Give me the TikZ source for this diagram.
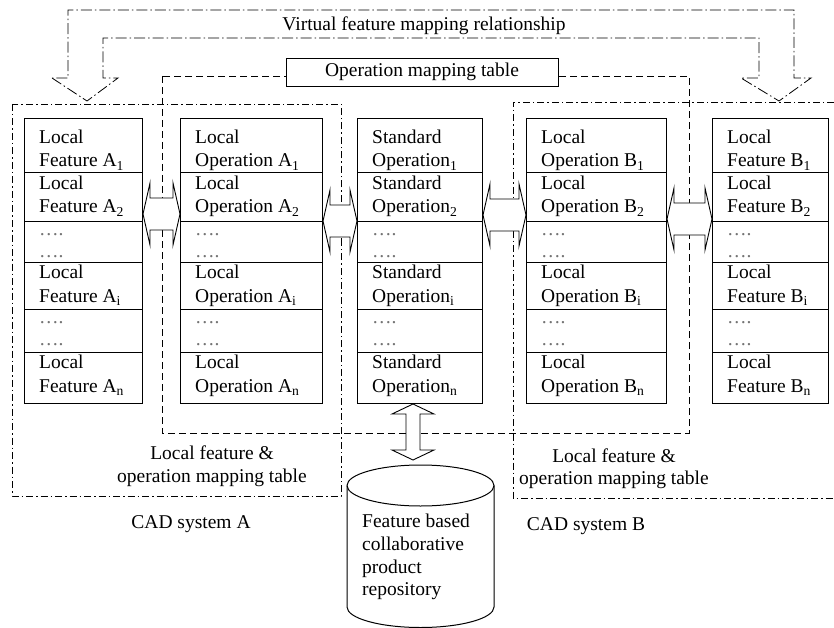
\documentclass[tikz,border=0pt]{standalone}
\usepackage{fontspec}
\setmainfont{Liberation Serif}
\usetikzlibrary{calc}
\newcommand\mycol[5]{%
  \node[colbox, minimum width=#3pt, anchor=north west] (#1) at (#2,118) {};
  \foreach \yy in {173,222,262,309,352} {\draw[sepline] (#1.west |- 0,\yy) -- (#1.east |- 0,\yy);}
  \node[lbl] (#1-a1) at ({#2+15},144) {#4};
  \node[lbl] (#1-b1) at ({#2+15},167) {#5\textsubscript{1}};
  \node[lbl] (#1-a2) at ({#2+15},190) {#4};
  \node[lbl] (#1-b2) at ({#2+15},213) {#5\textsubscript{2}};
  \node[dotsty] (#1-d1) at ({#2+15},235) {….};
  \node[dotsty] (#1-d2) at ({#2+15},257) {….};
  \node[lbl] (#1-a3) at ({#2+15},278) {#4};
  \node[lbl] (#1-b3) at ({#2+15},302) {#5\textsubscript{i}};
  \node[dotsty] (#1-d3) at ({#2+15},323) {….};
  \node[dotsty] (#1-d4) at ({#2+15},345) {….};
  \node[lbl] (#1-a4) at ({#2+15},368) {#4};
  \node[lbl] (#1-b4) at ({#2+15},392) {#5\textsubscript{n}};
}
\newcommand\hdarr[3]{%
  \path[darr] let \p1=(#1.east), \p2=(#2.west) in
    (\x1,{-#3pt}) -- ({\x1+7pt},{-#3pt+31pt}) -- ({\x1+7pt},{-#3pt+16pt})
    -- ({\x2-7pt},{-#3pt+16pt}) -- ({\x2-7pt},{-#3pt+31pt}) -- (\x2,{-#3pt})
    -- ({\x2-7pt},{-#3pt-31pt}) -- ({\x2-7pt},{-#3pt-16pt})
    -- ({\x1+7pt},{-#3pt-16pt}) -- ({\x1+7pt},{-#3pt-31pt}) -- cycle;
}
\begin{document}
\begin{tikzpicture}[x=1pt,y=-1pt,
  font=\fontsize{19.5}{23}\selectfont,
  colbox/.style={draw, line width=1pt, fill=white, rectangle, inner sep=0pt, minimum height=285pt},
  sepline/.style={line width=1pt},
  lbl/.style={anchor=base west, inner sep=0pt},
  ctr/.style={anchor=base, inner sep=0pt},
  dotsty/.style={anchor=base west, inner sep=0pt, text=black!55},
  darr/.style={draw, fill=white, line width=0.9pt, line join=miter},
  dashbox/.style={line width=0.9pt, dash pattern=on 7pt off 4pt},
  dotbox/.style={line width=0.9pt, dash pattern=on 7pt off 3pt on 1.5pt off 3pt},
  virt/.style={line width=0.8pt, dash pattern=on 11pt off 3pt on 1.5pt off 3pt}
]
\useasboundingbox (0,0) rectangle (834,628);

% virtual feature mapping arrow
\draw[virt] (52,78) -- (87,101) -- (118,78) -- (103,78) -- (103,38) -- (759,38)
  -- (759,78) -- (741,78) -- (779,101) -- (811,78) -- (794,78) -- (794,10)
  -- (68,10) -- (68,78) -- cycle;
\node[ctr] (virtlbl) at (424,31) {Virtual feature mapping relationship};

% regions
\draw[dotbox] (12,104) rectangle (341,496);
\draw[dotbox] (834,102) -- (513,102) -- (513,498) -- (834,498);
\draw[dashbox] (162,76) rectangle (689,433);
\node[draw, fill=white, line width=0.9pt, minimum width=272pt, minimum height=28pt, inner sep=0pt] (omt) at (422,72) {Operation mapping table};

% columns
\mycol{c1}{24}{118}{Local}{Feature A}
\mycol{c2}{180}{142}{Local}{Operation A}
\mycol{c3}{357}{125}{Standard}{Operation}
\mycol{c4}{526}{140}{Local}{Operation B}
\mycol{c5}{712}{116}{Local}{Feature B}

% double arrows
\hdarr{c1}{c2}{214}
\hdarr{c2}{c3}{221}
\hdarr{c3}{c4}{215}
\hdarr{c4}{c5}{219}

% repository
\draw[line width=1pt, fill=white] (347,485.5) -- (347,607)
  arc[start angle=180, end angle=360, x radius=73.5pt, y radius=20.5pt]
  -- (494,485.5)
  arc[start angle=0, end angle=180, x radius=73.5pt, y radius=20.5pt] -- cycle;
\draw[line width=1pt] (347,485.5) arc[start angle=180, end angle=360, x radius=73.5pt, y radius=20.5pt];
\coordinate (repotop) at (413,460);
\node[lbl] (repo1) at (362,527) {Feature based};
\node[lbl] (repo2) at (362,550) {collaborative};
\node[lbl] (repo3) at (362,573) {product};
\node[lbl] (repo4) at (362,595) {repository};

% vertical double arrow
\path[darr] let \p1=(c3.south), \p2=(repotop) in
  (413pt,\y1) -- (434pt,{\y1-10pt}) -- (420pt,{\y1-10pt}) -- (420pt,{\y2+10pt})
  -- (434pt,{\y2+10pt}) -- (413pt,\y2) -- (392pt,{\y2+10pt}) -- (406pt,{\y2+10pt})
  -- (406pt,{\y1-10pt}) -- (392pt,{\y1-10pt}) -- cycle;

% labels
\node[ctr] (lfa1) at (212,459) {Local feature \&};
\node[ctr] (lfa2) at (212,482) {operation mapping table};
\node[ctr] (lfb1) at (614,462) {Local feature \&};
\node[ctr] (lfb2) at (614,484) {operation mapping table};
\node[ctr] (cada) at (191,528) {CAD system A};
\node[ctr] (cadb) at (586,530) {CAD system B};
\end{tikzpicture}
\end{document}
